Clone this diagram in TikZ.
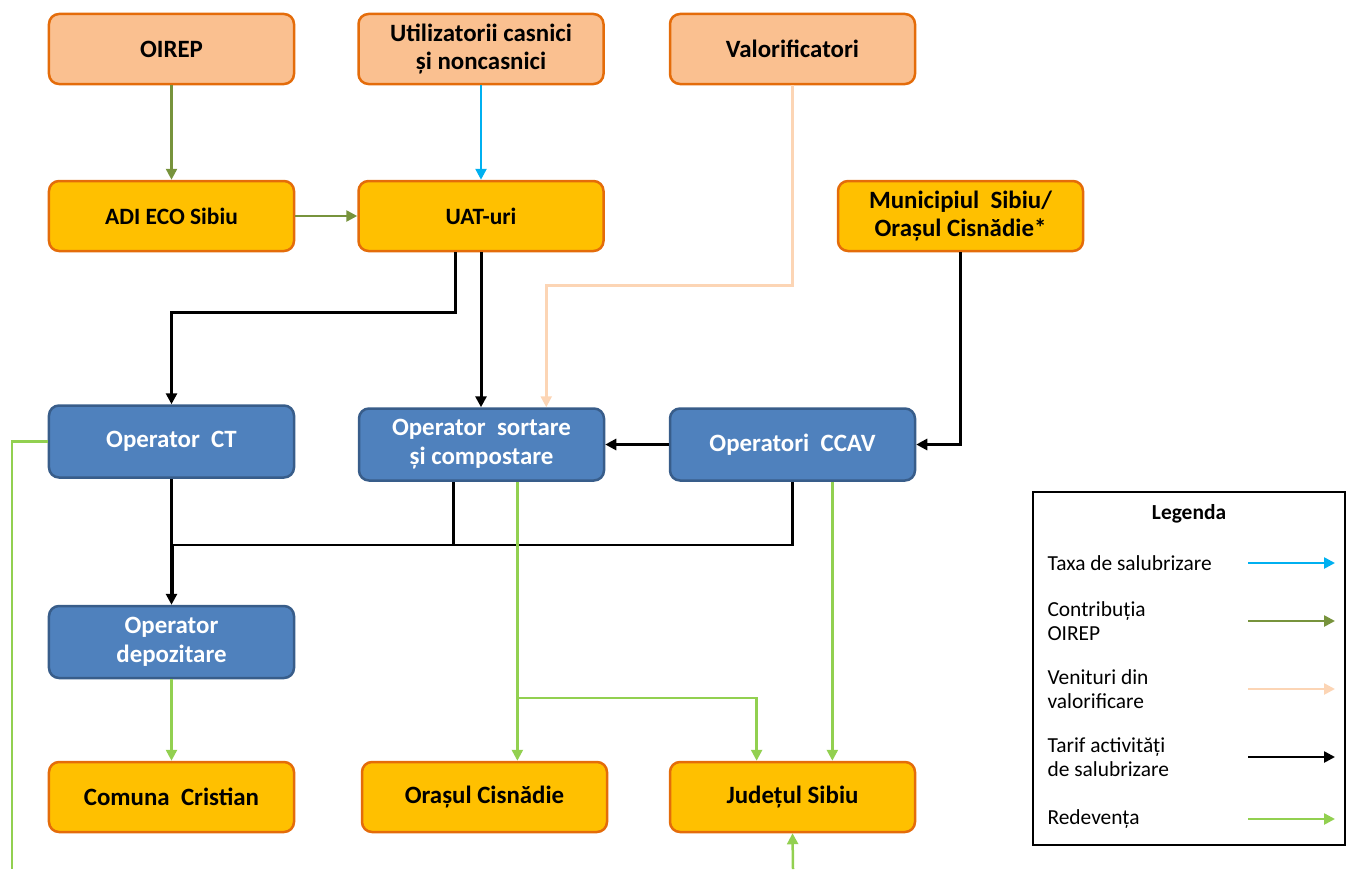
\documentclass[tikz,border=0pt]{standalone}
\usepackage{fontspec}
\setmainfont{Carlito}
\usetikzlibrary{arrows.meta}

\definecolor{peachfill}{HTML}{FAC090}
\definecolor{orangeline}{HTML}{E46C0A}
\definecolor{goldfill}{HTML}{FFC000}
\definecolor{bluefill}{HTML}{4F81BD}
\definecolor{blueline}{HTML}{385D8A}
\definecolor{oirepgreen}{HTML}{77933C}
\definecolor{taxblue}{HTML}{00B0F0}
\definecolor{valpeach}{HTML}{FCD5B5}
\definecolor{redgreen}{HTML}{92D050}

\tikzstyle{box}=[rounded corners=10bp, minimum width=245bp, minimum height=70bp, align=center, font=\fontsize{25}{29}\selectfont\bfseries, line width=2.5bp]
\tikzstyle{peachbox}=[box, draw=orangeline, fill=peachfill]
\tikzstyle{goldbox}=[box, draw=orangeline, fill=goldfill]
\tikzstyle{bluebox}=[box, draw=blueline, fill=bluefill, text=white, minimum height=72bp]
\tikzstyle{flow}=[line width=2.5bp, -{Triangle[length=11bp,width=11bp]}]
\tikzstyle{plain}=[line width=2.5bp]
\tikzstyle{legtext}=[anchor=west, align=left, font=\fontsize{21.5}{24}\selectfont]

\begin{document}
\begin{tikzpicture}[x=1bp, y=-1bp]
\useasboundingbox (0,0) rectangle (1351,869);

\node[peachbox] (oirep) at (171.5,49) {OIREP};
\node[peachbox] (util) at (481,49) {Utilizatorii casnici\\și noncasnici};
\node[peachbox] (valor) at (792.5,49) {Valorificatori};

\node[goldbox, font=\fontsize{23.5}{29}\selectfont\bfseries] (adi) at (171.5,216) {ADI ECO Sibiu};
\node[goldbox, font=\fontsize{23.5}{29}\selectfont\bfseries] (uat) at (481,216) {UAT-uri};
\node[goldbox] (muni) at (960.5,216) {Municipiul\ \ Sibiu/\\Orașul Cisnădie*};

\node[bluebox] (ct) at (171.5,441.5) {Operator\ \ CT};
\node[bluebox] (sortare) at (481.5,444.5) {Operator\ \ sortare\\și compostare};
\node[bluebox] (ccav) at (792.5,444.5) {Operatori\ \ CCAV};
\node[bluebox] (dep) at (171.5,642) {Operator\\depozitare};

\node[goldbox] (comuna) at (171.5,797) {Comuna\ \ Cristian};
\node[goldbox] (cis) at (484.5,797) {Orașul Cisnădie};
\node[goldbox] (jud) at (792.5,797) {Județul Sibiu};

\draw[flow, oirepgreen] (oirep) -- (adi);
\draw[flow, oirepgreen] (adi) -- (uat);
\draw[flow, taxblue] (util) -- (uat);
\draw[flow, valpeach] (valor.south) -- ++(0,200) -| ([xshift=65]sortare.north);

\draw[flow, line width=3bp] ([xshift=-26]uat.south) -- ++(0,60) -| (ct.north);
\draw[flow, line width=3bp] (uat.south) -- (uat.south |- sortare.north);
\draw[flow, line width=3bp] (muni.south) |- (ccav.east);
\draw[flow, line width=3bp] (ccav) -- (sortare);

\draw[plain, black] (ct.south) -- ++(0,66) coordinate (bus);
\draw[plain, black] (bus) -| ([xshift=-28]sortare.south);
\draw[plain, black] (bus) -| (ccav.south);
\draw[flow, line width=4bp] (bus) -- (dep.north);

\coordinate (ctdown) at (12,869);
\coordinate (judup) at (793,869);
\draw[plain, redgreen] (ct.west) -| (ctdown);
\draw[flow, redgreen] (dep) -- (comuna);
\draw[flow, redgreen] ([xshift=36]sortare.south) -- ([xshift=36]sortare.south |- cis.north);
\path ([xshift=36]sortare.south) ++(0,216) coordinate (split);
\draw[flow, redgreen] (split) -| ([xshift=-36]jud.north);
\draw[flow, redgreen] ([xshift=40]ccav.south) -- ([xshift=40]jud.north);
\draw[flow, redgreen] (judup) -- (jud.south);

\node[draw, line width=1.5bp, minimum width=312bp, minimum height=353bp] (legend) at (1189,668.5) {};
\node[font=\fontsize{21.5}{24}\selectfont\bfseries] (legtitle) at (1189,514) {Legenda};
\node[legtext] (leg1) at (1044,563) {Taxa de salubrizare};
\node[legtext] (leg2) at (1044,621) {Contribuția\\OIREP};
\node[legtext] (leg3) at (1044,689) {Venituri din\\valorificare};
\node[legtext] (leg4) at (1044,757) {Tarif activități\\de salubrizare};
\node[legtext] (leg5) at (1044,819) {Redevența};
\foreach \y/\c [count=\i] in {563/taxblue, 621/oirepgreen, 689/valpeach, 757/black, 819/redgreen}
  \draw[flow, \c] (1248,\y) coordinate (keya\i) -- (1335,\y) coordinate (keyb\i);
\end{tikzpicture}
\end{document}
